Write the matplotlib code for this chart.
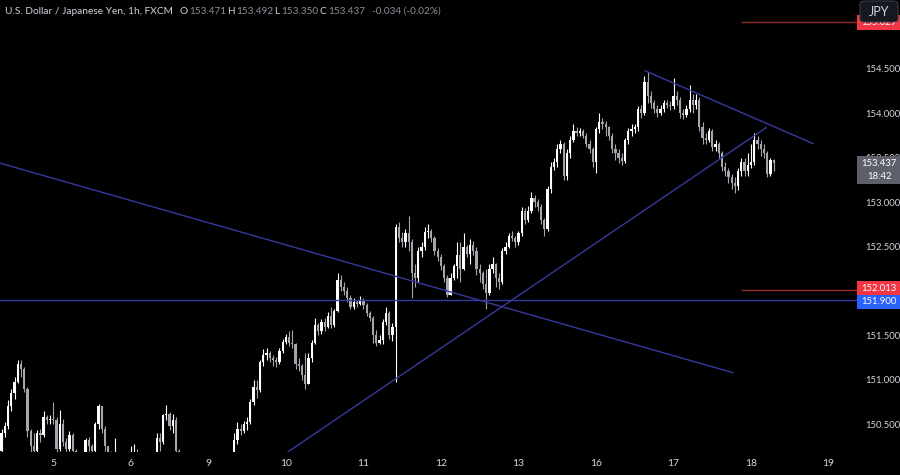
import matplotlib.pyplot as plt
import matplotlib.transforms as mtransforms
from matplotlib.patches import Rectangle, FancyBboxPatch
import numpy as np

plt.rcParams['font.family'] = ['Lato', 'DejaVu Sans']

# ---- hourly USD/JPY candles (open of each bar = previous close) ----
first_open = 150.20
closes = [
    150.40, 150.48, 150.70, 150.85, 150.98, 151.18, 151.12, 150.90, 150.42, 150.25,
    150.20, 150.40, 150.38, 150.58, 150.55, 150.56, 150.55, 150.22, 150.50, 150.30,
    150.22, 150.38, 150.20, 150.05, 150.10, 150.08, 150.32, 150.25, 150.20, 150.50,
    150.70, 150.45, 150.25, 150.18, 150.10, 150.15, 150.02, 149.95, 149.90, 150.00,
    150.08, 150.12, 150.05, 149.95, 149.88, 149.98, 150.05, 150.15, 150.35, 150.30,
    150.60, 150.62, 150.48, 150.55, 150.20, 150.05, 149.92, 149.85, 149.90, 149.80,
    149.75, 149.85, 149.90, 149.88, 149.95, 150.00, 149.92, 149.98, 150.05, 150.02,
    150.08, 150.12, 150.32, 150.45, 150.42, 150.50, 150.52, 150.75, 150.92, 150.88,
    151.20, 151.28, 151.30, 151.25, 151.22, 151.20, 151.32, 151.43, 151.48, 151.42,
    151.40, 151.18, 151.15, 151.05, 150.95, 151.25, 151.42, 151.62, 151.55, 151.65,
    151.60, 151.72, 151.62, 151.78, 152.12, 152.05, 152.00, 151.92, 151.82, 151.88,
    151.85, 151.90, 151.84, 151.75, 151.70, 151.50, 151.42, 151.45, 151.65, 151.75,
    151.50, 151.60, 152.72, 152.60, 152.55, 152.65, 152.55, 152.20, 152.15, 152.45,
    152.50, 152.66, 152.68, 152.60, 152.45, 152.38, 152.28, 152.15, 151.96, 152.15,
    152.28, 152.40, 152.25, 152.50, 152.42, 152.52, 152.45, 152.25, 152.20, 152.08,
    151.98, 152.25, 152.30, 152.15, 152.10, 152.45, 152.50, 152.62, 152.60, 152.55,
    152.65, 152.90, 152.80, 152.90, 153.05, 153.00, 152.95, 152.80, 152.70, 153.15,
    153.40, 153.45, 153.60, 153.65, 153.30, 153.55, 153.70, 153.80, 153.78, 153.80,
    153.75, 153.65, 153.60, 153.45, 153.82, 153.90, 153.88, 153.85, 153.75, 153.60,
    153.55, 153.50, 153.46, 153.70, 153.80, 153.82, 153.85, 154.05, 154.00, 154.35,
    154.20, 154.12, 154.05, 154.00, 154.05, 154.12, 154.10, 154.08, 154.20, 154.15,
    154.00, 153.98, 154.05, 154.15, 154.10, 154.15, 153.85, 153.72, 153.70, 153.80,
    153.62, 153.65, 153.55, 153.40, 153.35, 153.28, 153.22, 153.18, 153.35, 153.45,
    153.35, 153.42, 153.45, 153.70, 153.65, 153.60, 153.55, 153.32, 153.471, 153.437,
]
highs = [
    150.45, 150.53, 150.77, 150.90, 151.03, 151.22, 151.22, 151.14, 150.92, 150.45,
    150.40, 150.43, 150.45, 150.65, 150.60, 150.60, 150.75, 150.58, 150.66, 150.56,
    150.34, 150.42, 150.40, 150.22, 150.15, 150.14, 150.34, 150.36, 150.28, 150.52,
    150.73, 150.62, 150.48, 150.26, 150.20, 150.34, 150.16, 150.05, 150.00, 150.06,
    150.25, 150.28, 150.22, 150.08, 150.00, 150.05, 150.12, 150.18, 150.40, 150.40,
    150.62, 150.72, 150.64, 150.62, 150.58, 150.22, 150.08, 149.98, 150.00, 149.95,
    149.88, 149.92, 149.98, 149.95, 150.02, 150.08, 150.05, 150.06, 150.12, 150.10,
    150.14, 150.16, 150.40, 150.52, 150.50, 150.54, 150.58, 150.78, 151.00, 151.00,
    151.22, 151.35, 151.36, 151.32, 151.28, 151.26, 151.36, 151.46, 151.52, 151.55,
    151.56, 151.42, 151.25, 151.18, 151.30, 151.30, 151.45, 151.70, 151.64, 151.68,
    151.70, 151.76, 151.82, 151.80, 152.20, 152.18, 152.10, 152.04, 151.95, 151.92,
    151.90, 151.94, 151.92, 151.86, 151.78, 151.72, 151.56, 151.50, 151.68, 151.82,
    151.78, 151.64, 152.75, 152.78, 152.66, 152.70, 152.84, 152.58, 152.30, 152.50,
    152.55, 152.72, 152.76, 152.70, 152.62, 152.48, 152.42, 152.30, 152.18, 152.20,
    152.30, 152.55, 152.55, 152.65, 152.52, 152.58, 152.56, 152.50, 152.30, 152.22,
    152.25, 152.30, 152.38, 152.32, 152.20, 152.48, 152.55, 152.65, 152.68, 152.62,
    152.68, 152.95, 152.94, 152.96, 153.12, 153.08, 153.04, 152.98, 152.82, 153.18,
    153.45, 153.50, 153.65, 153.70, 153.68, 153.60, 153.75, 153.88, 153.85, 153.84,
    153.82, 153.78, 153.70, 153.62, 153.85, 154.00, 153.95, 153.92, 153.86, 153.78,
    153.65, 153.60, 153.55, 153.72, 153.84, 153.88, 153.88, 154.08, 154.10, 154.42,
    154.47, 154.25, 154.15, 154.10, 154.10, 154.15, 154.15, 154.14, 154.40, 154.25,
    154.18, 154.05, 154.10, 154.32, 154.22, 154.22, 154.18, 153.90, 153.78, 153.84,
    153.82, 153.70, 153.68, 153.58, 153.45, 153.38, 153.32, 153.28, 153.38, 153.50,
    153.50, 153.55, 153.65, 153.78, 153.74, 153.70, 153.65, 153.58, 153.50, 153.492,
]
lows = [
    150.15, 150.36, 150.45, 150.65, 150.78, 150.96, 151.03, 150.86, 150.36, 150.18,
    150.10, 150.15, 150.30, 150.36, 150.50, 150.50, 150.50, 150.18, 150.20, 150.26,
    150.18, 150.20, 150.12, 149.98, 150.00, 150.02, 150.06, 150.20, 150.15, 150.18,
    150.45, 150.40, 150.20, 150.12, 150.05, 150.05, 149.95, 149.85, 149.80, 149.85,
    149.96, 150.02, 150.00, 149.90, 149.75, 149.80, 149.95, 150.02, 150.12, 150.20,
    150.28, 150.55, 150.44, 150.40, 150.15, 149.98, 149.85, 149.75, 149.80, 149.70,
    149.65, 149.72, 149.80, 149.82, 149.85, 149.90, 149.85, 149.88, 149.94, 149.96,
    149.98, 150.02, 150.10, 150.28, 150.38, 150.40, 150.44, 150.50, 150.72, 150.80,
    150.86, 151.15, 151.22, 151.20, 151.16, 151.14, 151.18, 151.30, 151.40, 151.38,
    151.36, 151.12, 151.10, 151.00, 150.90, 150.95, 151.20, 151.40, 151.50, 151.52,
    151.55, 151.58, 151.58, 151.60, 151.76, 152.00, 151.96, 151.88, 151.80, 151.80,
    151.82, 151.84, 151.80, 151.72, 151.66, 151.42, 151.38, 151.40, 151.40, 151.62,
    151.46, 151.44, 150.98, 152.55, 152.50, 152.50, 152.45, 151.92, 152.05, 152.10,
    152.38, 152.46, 152.60, 152.55, 152.40, 152.34, 152.24, 152.10, 151.93, 151.95,
    152.12, 152.15, 152.10, 152.24, 152.38, 152.30, 152.40, 152.18, 152.10, 152.02,
    151.80, 151.95, 152.20, 152.05, 152.02, 152.08, 152.42, 152.48, 152.56, 152.50,
    152.52, 152.62, 152.75, 152.78, 152.88, 152.95, 152.90, 152.76, 152.62, 152.68,
    153.10, 153.36, 153.40, 153.55, 153.25, 153.25, 153.50, 153.68, 153.74, 153.74,
    153.72, 153.62, 153.55, 153.40, 153.33, 153.78, 153.82, 153.75, 153.70, 153.55,
    153.48, 153.44, 153.42, 153.44, 153.66, 153.75, 153.78, 153.80, 153.95, 153.98,
    154.12, 154.06, 154.00, 153.96, 153.98, 154.02, 154.06, 154.04, 154.05, 154.10,
    153.95, 153.94, 153.96, 154.02, 154.00, 154.05, 153.80, 153.66, 153.65, 153.68,
    153.58, 153.58, 153.50, 153.35, 153.30, 153.22, 153.15, 153.10, 153.14, 153.30,
    153.30, 153.30, 153.38, 153.42, 153.60, 153.52, 153.50, 153.28, 153.30, 153.350,
]

day_ticks = [16, 40, 64, 88, 112, 136, 160, 184, 208, 232, 256]
day_labels = ['5', '6', '9', '10', '11', '12', '13', '16', '17', '18', '19']
# 152.000 and 155.000 sit under the price tags, so only these are shown
price_ticks = [150.5, 151.0, 151.5, 152.5, 153.0, 153.5, 154.0, 154.5]

# drawn trendlines: (bar index pair), (price pair)
trend_long_x, trend_long_y = [-0.5, 226.4], [153.44, 151.08]
trend_rise_x, trend_rise_y = [88.7, 236.7], [150.19, 153.84]
trend_top_x, trend_top_y = [199.2, 251.2], [154.48, 153.66]
support_level = 151.900
red_levels = [155.029, 152.013]
red_start = 229.2
last_price = 153.437
countdown = '18:42'

BG = '#000000'
TXT = '#d1d4dc'
UP = '#ffffff'
DOWN = '#a3a6af'
LINE = '#353a9e'
RED = '#962c2c'

W, H = 900, 475
fig = plt.figure(figsize=(9, 4.75), dpi=100, facecolor=BG)
ax = fig.add_axes([0, 23 / H, 857 / W, 452 / H], facecolor=BG)

c = np.array(closes)
o = np.r_[first_open, c[:-1]]
hi = np.maximum(np.array(highs), np.maximum(o, c))
lo = np.minimum(np.array(lows), np.minimum(o, c))
x = np.arange(len(c))
cols = np.where(c >= o, UP, DOWN)

ax.vlines(x, lo, hi, colors=cols, lw=0.8, zorder=3)
ax.bar(x, np.maximum(np.abs(c - o), 0.012), bottom=np.minimum(o, c), width=0.7,
       color=cols, linewidth=0, zorder=3)

# drawings
ax.plot(trend_long_x, trend_long_y, color=LINE, lw=1, zorder=4)
ax.plot(trend_rise_x, trend_rise_y, color=LINE, lw=1, zorder=4)
ax.plot(trend_top_x, trend_top_y, color=LINE, lw=1, zorder=4)
ax.axhline(support_level, color=LINE, lw=1, zorder=4)
for lvl in red_levels:
    ax.plot([red_start, 300], [lvl, lvl], color=RED, lw=1, zorder=4)

ax.set_xlim(-0.5, 264.8)
ax.set_ylim(150.187, 155.277)
for s in ax.spines.values():
    s.set_visible(False)

ax.set_xticks(day_ticks)
ax.set_xticklabels(day_labels)
ax.yaxis.tick_right()
ax.set_yticks(price_ticks)
ax.set_yticklabels(['%.3f' % p for p in price_ticks])
ax.tick_params(axis='x', colors=TXT, length=0, labelsize=7.5, pad=5)
ax.tick_params(axis='y', colors=TXT, length=0, labelsize=6.8, pad=6)

# price tags on the right scale
trans = mtransforms.blended_transform_factory(ax.transAxes, ax.transData)
tag_w = 43 / 857
tag_mid = 1.0 + 22 / 857


def price_tag(lo_p, hi_p, fc, zorder=6):
    ax.add_patch(Rectangle((1.0, lo_p), tag_w, hi_p - lo_p, transform=trans, fc=fc,
                           ec='none', clip_on=False, zorder=zorder))


def tag_text(p, text, color='white', zorder=7):
    ax.text(tag_mid, p, text, transform=trans, ha='center', va='center',
            fontsize=6.8, color=color, clip_on=False, zorder=zorder)


price_tag(red_levels[0] - 0.09, red_levels[0] + 0.08, '#f23645')
tag_text(red_levels[0], '%.3f' % red_levels[0])
price_tag(red_levels[1] - 0.055, red_levels[1] + 0.1, '#f23645')
tag_text(red_levels[1] + 0.02, '%.3f' % red_levels[1])
price_tag(support_level - 0.1, support_level + 0.055, '#2962ff', zorder=8)
tag_text(support_level - 0.02, '%.3f' % support_level, zorder=9)
price_tag(last_price - 0.232, last_price + 0.085, '#5d606b')
tag_text(last_price, '%.3f' % last_price)
tag_text(last_price - 0.15, countdown)

# currency button
fig.patches.append(FancyBboxPatch((860 / W, 1 - 22 / H), 38 / W, 21 / H,
                                  boxstyle='round,pad=0,rounding_size=0.006',
                                  transform=fig.transFigure, fc='#16181f', ec='#363a45',
                                  lw=0.8, zorder=20))
fig.text(879 / W, 1 - 12 / H, 'JPY', color=TXT, fontsize=9, ha='center',
         va='center', zorder=21)

# header
hy = 1 - 11 / H
fig.text(5 / W, hy, 'U.S. Dollar / Japanese Yen, 1h, FXCM', color=TXT, fontsize=7.3, va='center')
parts = [(180, 'O', TXT), (189, '153.471', '#8c8f99'), (227, 'H', TXT), (236, '153.492', '#8c8f99'),
         (274, 'L', TXT), (281, '153.350', '#8c8f99'), (319, 'C', TXT), (328, '153.437', '#8c8f99'),
         (372, '-0.034 (-0.02%)', '#8c8f99')]
for px, s, col in parts:
    fig.text(px / W, hy, s, color=col, fontsize=7.2, va='center')

fig.savefig('out.png', dpi=100, facecolor=BG)
